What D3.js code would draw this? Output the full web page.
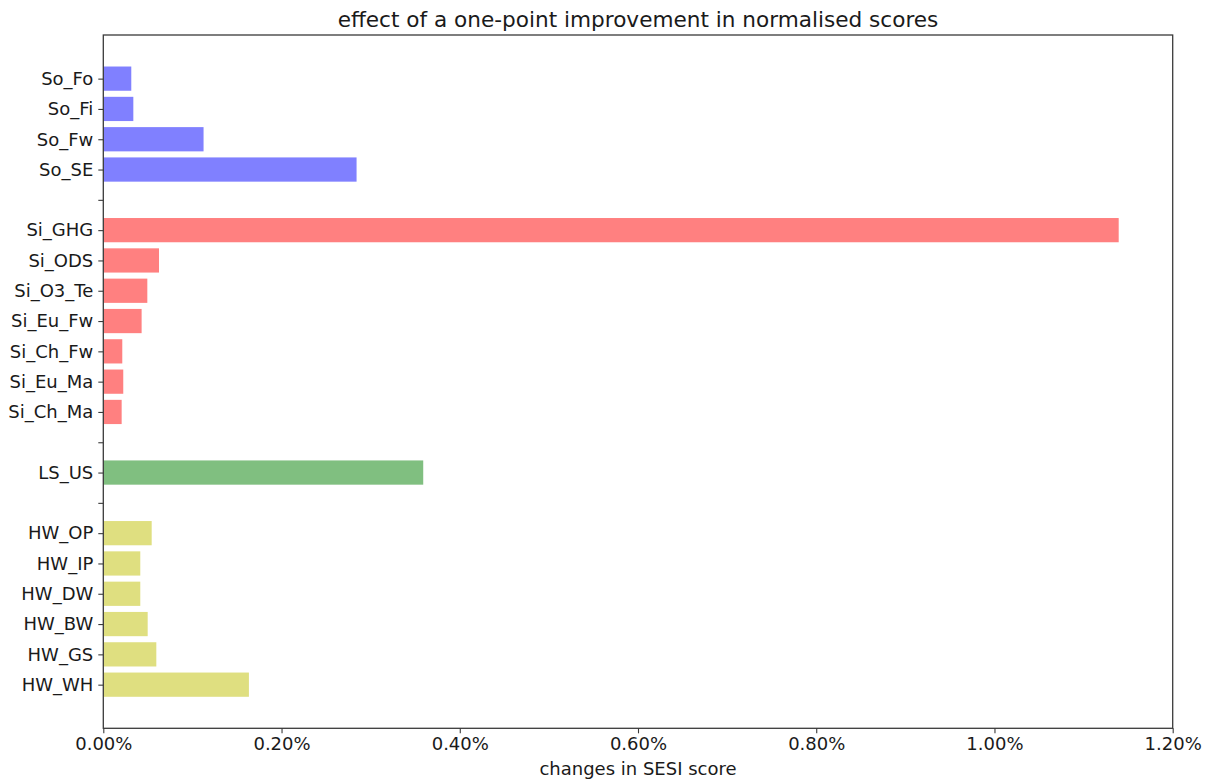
<!DOCTYPE html>
<html>
<head>
<meta charset="utf-8">
<script src="https://cdn.jsdelivr.net/npm/d3@7"></script>
<style>
  html, body { margin: 0; padding: 0; background: #fff; }
  svg { display: block; font-family: "DejaVu Sans", sans-serif; }
</style>
</head>
<body>
<svg id="chart" width="1209" height="779"></svg>
<script>
// Indicator names, top to bottom; empty strings are spacer rows between groups
const categories = [
  "So_Fo", "So_Fi", "So_Fw", "So_SE", "",
  "Si_GHG", "Si_ODS", "Si_O3_Te", "Si_Eu_Fw", "Si_Ch_Fw", "Si_Eu_Ma", "Si_Ch_Ma", "",
  "LS_US", "",
  "HW_OP", "HW_IP", "HW_DW", "HW_BW", "HW_GS", "HW_WH"
];
// Change in SESI score (percent) per one-point improvement; null for spacer rows
const values = [
  0.0314, 0.0337, 0.1125, 0.2842, null,
  1.1394, 0.0625, 0.0494, 0.0430, 0.0213, 0.0224, 0.0206, null,
  0.3590, null,
  0.0543, 0.0415, 0.0415, 0.0498, 0.0595, 0.1634
];
// Group of each row (drives bar colour)
const groups = [
  "So", "So", "So", "So", null,
  "Si", "Si", "Si", "Si", "Si", "Si", "Si", null,
  "LS", null,
  "HW", "HW", "HW", "HW", "HW", "HW"
];
const groupColors = { So: "#8080ff", Si: "#ff8080", LS: "#80bf80", HW: "#dfdf80" };
const xTicks = [0, 0.2, 0.4, 0.6, 0.8, 1.0, 1.2];

const rows = categories.map((c, i) => ({ name: c, value: values[i], group: groups[i], idx: i }));

const svg = d3.select("#chart");
const plotLeft = 103.3, plotRight = 1172.7, plotTop = 35, plotBottom = 728.3;
const barH = 0.8;
const pad = (categories.length - 1 + barH) * 0.05;
const tickFont = 18;

const x = d3.scaleLinear().domain([0, 1.2]).range([plotLeft, plotRight]);
const y = d3.scaleLinear()
  .domain([-barH / 2 - pad, categories.length - 1 + barH / 2 + pad])
  .range([plotTop, plotBottom]);
const rowPx = y(1) - y(0);

// Bars
svg.append("g")
  .selectAll("rect")
  .data(rows.filter(d => d.value != null))
  .join("rect")
  .attr("x", x(0))
  .attr("y", d => y(d.idx - barH / 2))
  .attr("width", d => x(d.value) - x(0))
  .attr("height", barH * rowPx)
  .attr("fill", d => groupColors[d.group]);

// Frame
svg.append("rect")
  .attr("x", plotLeft).attr("y", plotTop)
  .attr("width", plotRight - plotLeft).attr("height", plotBottom - plotTop)
  .attr("fill", "none").attr("stroke", "#3a3a3a").attr("stroke-width", 1.3);

// X axis
const xAxis = d3.axisBottom(x)
  .tickValues(xTicks)
  .tickFormat(d => d.toFixed(2) + "%")
  .tickSize(5).tickPadding(4);
const gx = svg.append("g").attr("transform", `translate(0,${plotBottom})`).call(xAxis);
gx.select(".domain").remove();
gx.selectAll(".tick line").attr("stroke", "#3a3a3a").attr("stroke-width", 1.1);
gx.selectAll(".tick text")
  .attr("font-family", "DejaVu Sans").attr("font-size", tickFont).attr("fill", "#1a1a1a");

// Y axis
const yAxis = d3.axisLeft(y)
  .tickValues(d3.range(categories.length))
  .tickFormat(i => categories[i])
  .tickSize(5).tickPadding(5);
const gy = svg.append("g").attr("transform", `translate(${plotLeft},0)`).call(yAxis);
gy.select(".domain").remove();
gy.selectAll(".tick line").attr("stroke", "#3a3a3a").attr("stroke-width", 1.1);
gy.selectAll(".tick text")
  .attr("font-family", "DejaVu Sans").attr("font-size", tickFont).attr("fill", "#1a1a1a");

// Title and axis label
svg.append("text")
  .attr("x", (plotLeft + plotRight) / 2).attr("y", 27)
  .attr("text-anchor", "middle")
  .attr("font-size", 21.6).attr("fill", "#1a1a1a")
  .text("effect of a one-point improvement in normalised scores");

svg.append("text")
  .attr("x", (plotLeft + plotRight) / 2).attr("y", 775)
  .attr("text-anchor", "middle")
  .attr("font-size", tickFont).attr("fill", "#1a1a1a")
  .text("changes in SESI score");
</script>
</body>
</html>
